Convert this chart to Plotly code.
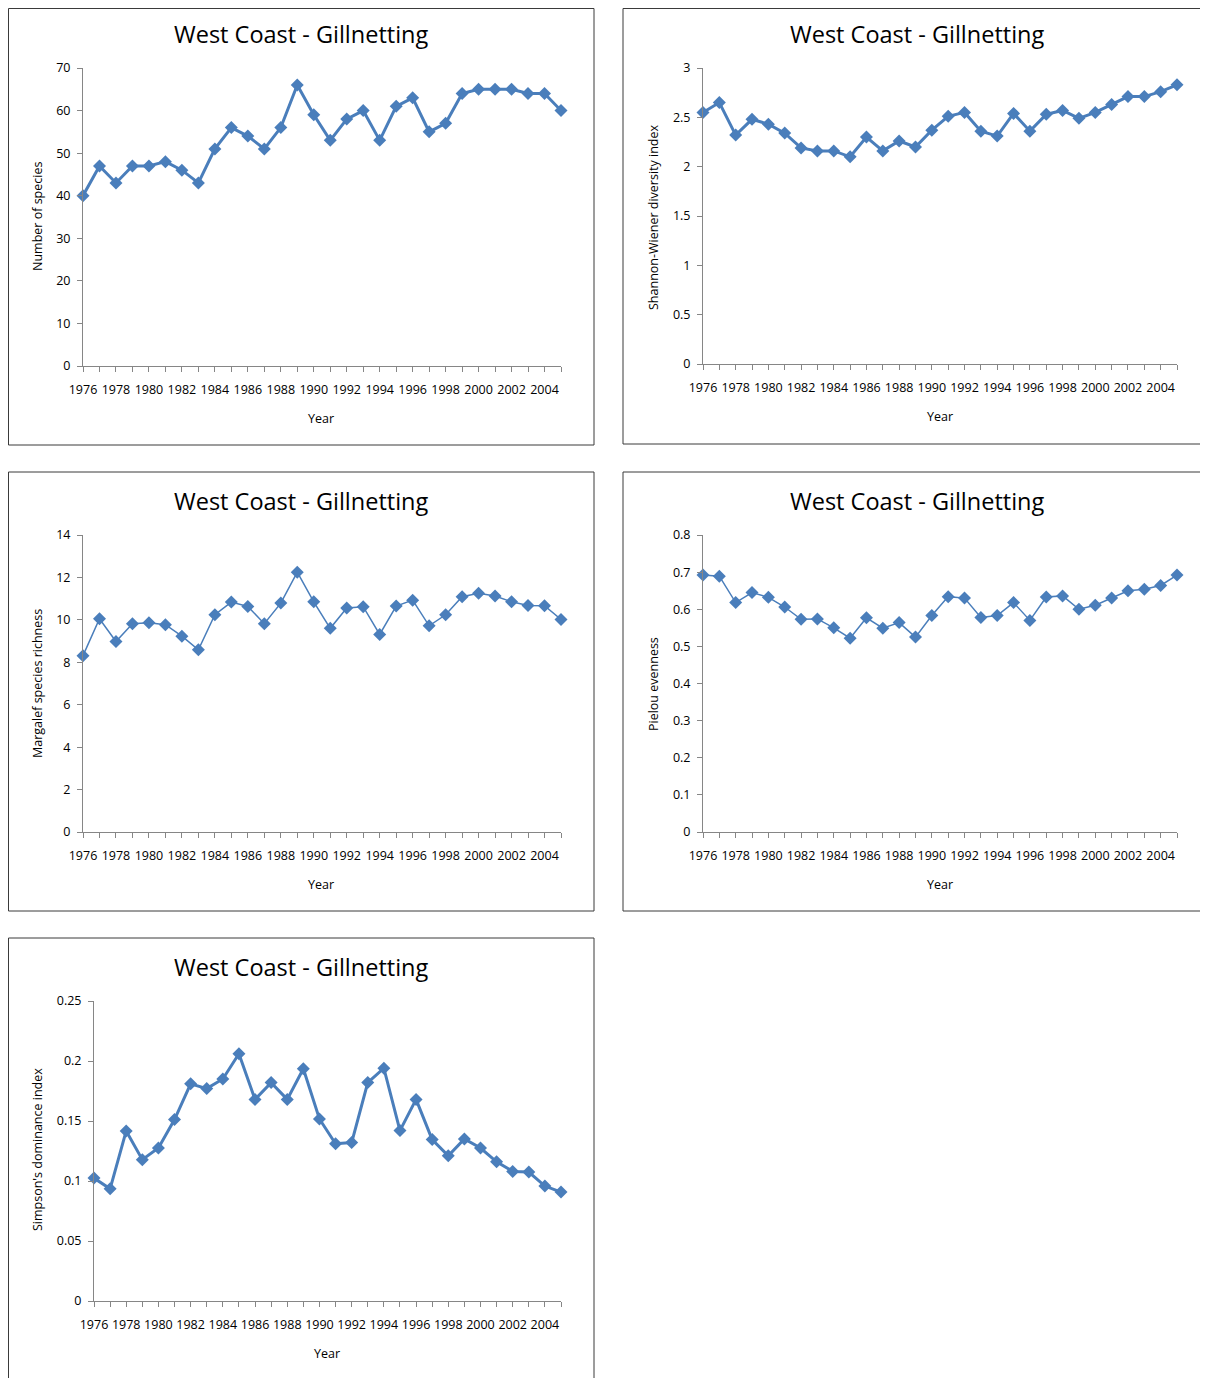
import plotly.graph_objects as go

W, H = 1208, 1378

years = list(range(1976, 2006))

species = [40, 47, 43, 47, 47, 48, 46, 43, 51, 56, 54, 51, 56, 66, 59,
           53, 58, 60, 53, 61, 63, 55, 57, 64, 65, 65, 65, 64, 64, 60]
shannon = [2.55, 2.65, 2.32, 2.48, 2.43, 2.34, 2.19, 2.16, 2.16, 2.10, 2.30, 2.16, 2.26, 2.20, 2.37,
           2.51, 2.55, 2.36, 2.31, 2.54, 2.36, 2.53, 2.57, 2.49, 2.55, 2.63, 2.71, 2.71, 2.76, 2.83]
margalef = [8.31, 10.05, 8.98, 9.82, 9.86, 9.77, 9.23, 8.59, 10.24, 10.84, 10.63, 9.82, 10.79, 12.25, 10.85,
            9.60, 10.56, 10.62, 9.31, 10.65, 10.93, 9.72, 10.24, 11.09, 11.25, 11.12, 10.85, 10.68, 10.67, 10.02]
pielou = [0.692, 0.689, 0.618, 0.645, 0.632, 0.606, 0.573, 0.574, 0.550, 0.522, 0.577, 0.549, 0.564, 0.525, 0.583,
          0.634, 0.630, 0.578, 0.583, 0.618, 0.570, 0.633, 0.636, 0.600, 0.611, 0.630, 0.650, 0.654, 0.664, 0.692]
simpson = [0.1024, 0.0935, 0.1417, 0.1178, 0.1275, 0.1512, 0.181, 0.177, 0.185, 0.206, 0.168, 0.182, 0.168, 0.1935, 0.1517,
           0.131, 0.132, 0.182, 0.194, 0.142, 0.168, 0.1345, 0.121, 0.135, 0.1275, 0.116, 0.108, 0.1075, 0.0958, 0.0908]

title_text = "West Coast - Gillnetting"
x_title = "Year"
y_titles = ["Number of species", "Shannon-Wiener diversity index", "Margalef species richness",
            "Pielou evenness", "Simpson's dominance index"]
series = [species, shannon, margalef, pielou, simpson]
y_ranges = [(0, 70, 10), (0, 3, 0.5), (0, 14, 2), (0, 0.8, 0.1), (0, 0.25, 0.05)]
line_widths = [3, 3, 1.5, 1.5, 3]

# layout in page pixels: (plot left, plot right, plot top, plot bottom), box (x0, y0, x1, y1)
plots = [(83, 561, 68, 366), (703, 1177, 68, 364), (83, 561, 535, 832), (703, 1177, 535, 832), (94, 561, 1001, 1301)]
boxes = [(8.5, 8.5, 594, 445), (623, 8.5, 1230, 444), (8.5, 472, 594, 911), (623, 472, 1230, 911), (8.5, 938, 594, 1400)]
title_pos = [(301, 34), (917, 34), (301, 501), (917, 501), (301, 967)]
ytitle_pos = [(37, 217), (653, 217), (37, 684), (653, 684), (37, 1150)]
xtitle_pos = [(321, 418), (940, 417), (321, 884), (940, 884), (327, 1353)]

OFF = 8  # page body margin

def fx(px):
    return (px - OFF) / W

def fy(py):
    return 1 - (py - OFF) / H

COLOR = "#4a7ebb"
AXIS_COLOR = "#868686"
FONT = "Open Sans"

fig = go.Figure()
shapes = []
annotations = []
tickvals = years
ticktext = [str(y) if (y - 1976) % 2 == 0 else "" for y in years]

for i in range(5):
    n = i + 1
    xa = "x" if n == 1 else f"x{n}"
    ya = "y" if n == 1 else f"y{n}"
    fig.add_trace(go.Scatter(
        x=years, y=series[i], mode="lines+markers", xaxis=xa, yaxis=ya,
        line=dict(color=COLOR, width=line_widths[i]),
        marker=dict(symbol="diamond", size=10, color=COLOR),
        cliponaxis=False, showlegend=False))
    l, r, t, b = plots[i]
    y0, y1, dt = y_ranges[i]
    fig.layout[f"xaxis{'' if n == 1 else n}"] = dict(
        domain=[fx(l), fx(r)], anchor=ya, range=[1976, 2005], automargin=False,
        tickmode="array", tickvals=tickvals, ticktext=ticktext, ticklabelstandoff=7,
        ticks="outside", ticklen=5, tickcolor=AXIS_COLOR, showline=True,
        linecolor=AXIS_COLOR, linewidth=1, showgrid=False, zeroline=False,
        tickfont=dict(family=FONT, size=12.5, color="#000"))
    fig.layout[f"yaxis{'' if n == 1 else n}"] = dict(
        domain=[fy(b), fy(t)], anchor=xa, range=[y0, y1], dtick=dt, tick0=0, automargin=False,
        ticklabelstandoff=4,
        ticks="outside", ticklen=5, tickcolor=AXIS_COLOR, showline=True,
        linecolor=AXIS_COLOR, linewidth=1, showgrid=False, zeroline=False,
        tickfont=dict(family=FONT, size=12.5, color="#000"))
    bx0, by0, bx1, by1 = boxes[i]
    shapes.append(dict(type="rect", xref="paper", yref="paper",
                       x0=fx(bx0), x1=fx(bx1), y0=fy(by1), y1=fy(by0),
                       line=dict(color="#3a3a3a", width=1)))
    tx, ty = title_pos[i]
    annotations.append(dict(text=title_text, xref="paper", yref="paper", x=fx(tx), y=fy(ty),
                            xanchor="center", yanchor="middle", showarrow=False,
                            font=dict(family=FONT, size=23.5, color="#000")))
    yx, yy = ytitle_pos[i]
    annotations.append(dict(text=y_titles[i], xref="paper", yref="paper", x=fx(yx), y=fy(yy),
                            xanchor="center", yanchor="middle", showarrow=False, textangle=-90,
                            font=dict(family=FONT, size=12.5, color="#000")))
    xx, xy = xtitle_pos[i]
    annotations.append(dict(text=x_title, xref="paper", yref="paper", x=fx(xx), y=fy(xy),
                            xanchor="center", yanchor="middle", showarrow=False,
                            font=dict(family=FONT, size=12.5, color="#000")))

fig.update_layout(width=W, height=H, margin=dict(l=0, r=0, t=0, b=0, autoexpand=False),
                  paper_bgcolor="white", plot_bgcolor="white",
                  shapes=shapes, annotations=annotations)

fig.write_html("out.html")
